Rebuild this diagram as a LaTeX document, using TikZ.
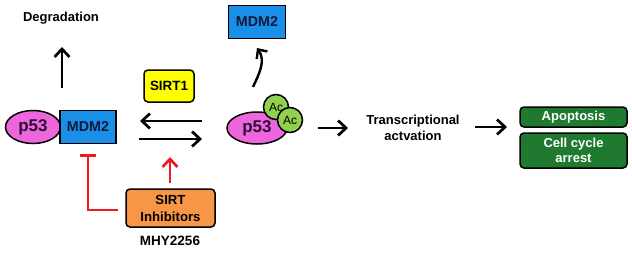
\documentclass[tikz,border=0pt]{standalone}
\usepackage{fontspec}
\setmainfont{Liberation Sans}
\usetikzlibrary{shapes.geometric,arrows.meta}
\definecolor{pmag}{HTML}{EE66DD}
\definecolor{mblue}{HTML}{1A8FE8}
\definecolor{syel}{HTML}{FFFF00}
\definecolor{sorg}{HTML}{F79646}
\definecolor{acgr}{HTML}{92D050}
\definecolor{boxgr}{HTML}{1F7A30}
\definecolor{ptxt}{HTML}{2A0E36}
\definecolor{mtxt}{HTML}{0E1A3A}
\definecolor{ired}{HTML}{EE1C1C}
\begin{document}
\begin{tikzpicture}[x=1pt,y=-1pt,
  lbl/.style={font=\fontsize{13}{16.5}\selectfont\bfseries, align=center, inner sep=0pt},
  prot/.style={draw=black, line width=1.5pt, inner sep=0pt, font=\fontsize{14.3}{16}\selectfont\bfseries},
  p53sty/.style={prot, ellipse, fill=pmag, text=ptxt, font=\fontsize{17}{18}\selectfont\bfseries},
  mdmsty/.style={prot, rectangle, fill=mblue, text=mtxt, minimum width=56pt, minimum height=33pt},
  acsty/.style={prot, circle, fill=acgr, minimum size=25pt, font=\fontsize{12}{13}\selectfont, text=black},
  rbox/.style={draw=black, line width=1.5pt, rounded corners=4pt, inner sep=0pt, align=center},
  gbox/.style={rbox, fill=boxgr, text=white, minimum width=107pt, font=\fontsize{13}{15.5}\selectfont\bfseries},
  arr/.style={line width=2.7pt, -{Straight Barb[length=8pt,width=15pt]}},
  iarr/.style={arr, draw=ired},
  ibar/.style={line width=2.7pt, draw=ired, -{Bar[width=16pt]}}
]
\useasboundingbox (0,0) rectangle (632,258);

% left complex
\node[p53sty, minimum width=55pt, minimum height=33pt] (p53L) at (33,127) {p53};
\node[mdmsty] (mdmL) at (88,127) {MDM2};
\node[lbl] (degr) at (61,18) {Degradation};
\coordinate (dgS) at (62,88);
\coordinate (dgE) at (62,47);
\draw[arr] (dgS) -- (dgE);

% SIRT1 and equilibrium arrows
\node[rbox, fill=syel, minimum width=50pt, minimum height=32pt, font=\fontsize{13.4}{16}\selectfont\bfseries] (sirt) at (169,86) {SIRT1};
\coordinate (lfS) at (202,121);
\coordinate (lfE) at (140,121);
\coordinate (rtS) at (139,139);
\coordinate (rtE) at (202,139);
\draw[arr] (lfS) -- (lfE);
\draw[arr] (rtS) -- (rtE);

% inhibitors
\node[rbox, fill=sorg, minimum width=89pt, minimum height=38pt, font=\fontsize{13.2}{17}\selectfont\bfseries] (inh) at (170.5,208) {SIRT\\Inhibitors};
\node[lbl, font=\fontsize{13.5}{16}\selectfont\bfseries] (mhy) at (170,241) {MHY2256};
\coordinate (inS) at (170,183);
\coordinate (inUp) at (170,157);
\draw[iarr] (inS) -- (inUp);
\coordinate (tbS) at (118,210);
\coordinate (tbE) at (88,154);
\draw[ibar] (tbS) -| (tbE);

% right acetylated p53
\node[mdmsty, minimum width=57pt] (mdmT) at (257,22) {MDM2};
\node[p53sty, minimum width=60pt, minimum height=32pt] (p53R) at (257,128) {p53};
\node[acsty] (ac1) at (276,107) {Ac};
\node[acsty] (ac2) at (290,120) {Ac};
\coordinate (cvS) at (253,87);
\coordinate (cvE) at (257,48);
\draw[line width=2.4pt, -{Straight Barb[length=7pt,width=13pt]}] (cvS) to[out=65,in=-55] (cvE);

% transcription
\coordinate (t1S) at (318,128);
\coordinate (t1E) at (348,128);
\draw[arr] (t1S) -- (t1E);
\node[lbl] (trans) at (413,128) {Transcriptional\\actvation};
\coordinate (t2S) at (475,127);
\coordinate (t2E) at (507,127);
\draw[arr] (t2S) -- (t2E);

% outcomes
\node[gbox, minimum height=20pt] (apop) at (573.5,117) {Apoptosis};
\node[gbox, minimum height=35pt] (cell) at (573.5,150.5) {Cell cycle\\arrest};
\end{tikzpicture}
\end{document}
